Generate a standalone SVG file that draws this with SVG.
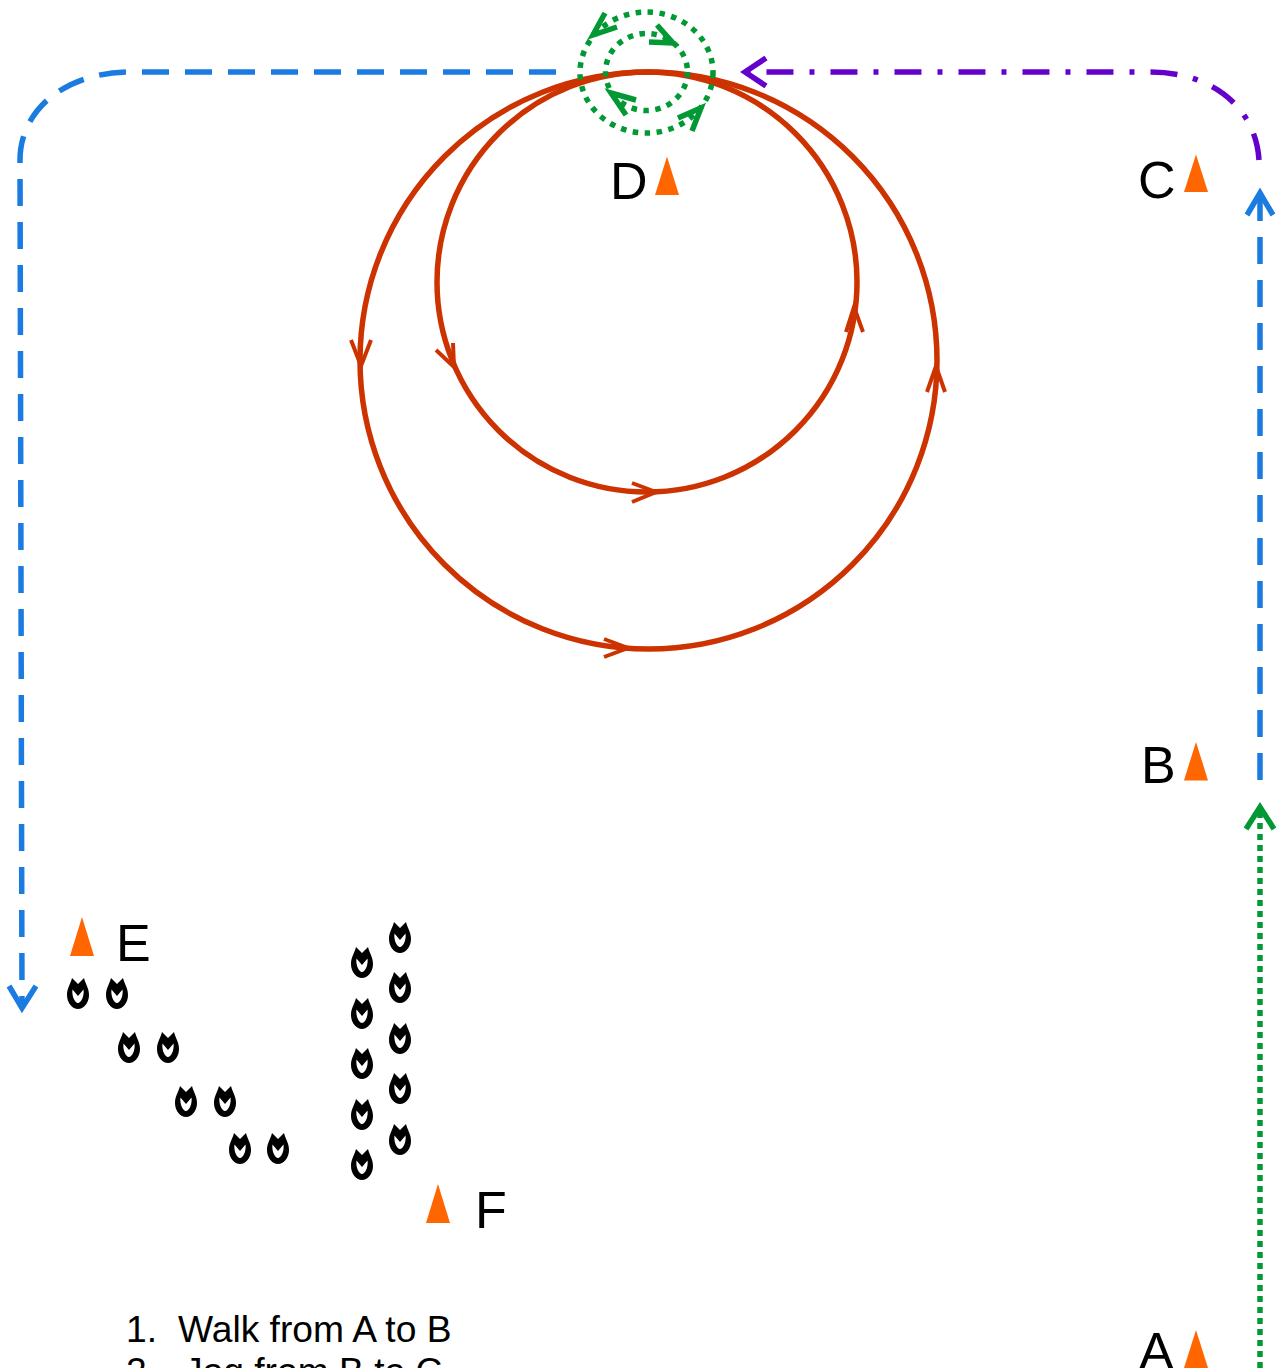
<svg xmlns="http://www.w3.org/2000/svg" width="1277" height="1368" viewBox="0 0 1277 1368">
<style>
.lab{font-family:"Liberation Sans",Arial,sans-serif;font-size:52px;fill:#000}
.list{font-family:"Liberation Sans",Arial,sans-serif;font-size:37.200px;fill:#000}
.tri{fill:#ff6600}
.c{fill:none}
.red{stroke:#cc3300;stroke-width:5.500}
.redh{stroke:#cc3300;stroke-width:4}
.grn{stroke:#009933;stroke-width:5.500}
.gdot{stroke-dasharray:5.500 6.500}
.blu{stroke:#1a7be0;stroke-width:5.500}
.pur{stroke:#6600cc;stroke-width:5.500}
.dash{stroke-dasharray:27 16}
.dd{stroke-dasharray:27 16 5 16}
</style>
<defs>
<g id="foot">
<path fill="#000" d="M-11,2 C-11,-5 -7.500,-9 -6,-15 L0,-9 L6,-15 C7.500,-9 11,-5 11,2 C11,10 5.500,16 0,16 C-5.500,16 -11,10 -11,2Z"/>
<path fill="#fff" d="M-5.500,-3.500 L0,3 L5.500,-3.500 C6.500,3 3,10 0,10 C-3,10 -6.500,3 -5.500,-3.500Z"/>
</g>
</defs>
<g id="connectors">
<circle class="c red" cx="648.500" cy="360.500" r="288.500"/>
<circle class="c red" cx="647" cy="282" r="210"/>
<polyline class="c redh" points="351,340 361,366 371,340"/>
<polyline class="c redh" points="436,350 454,367 453,343"/>
<polyline class="c redh" points="927,392 936,366 945,392"/>
<polyline class="c redh" points="846,332 854,307 863,332"/>
<polyline class="c redh" points="604,639 628,648 604,657"/>
<polyline class="c redh" points="632,483 656,492 632,502"/>
<ellipse class="c grn gdot" cx="646.500" cy="72.500" rx="66.500" ry="60.500"/>
<ellipse class="c grn gdot" cx="646.500" cy="72" rx="41" ry="38.500"/>
<polyline class="c grn" points="605,13 593,35 617,27"/>
<polyline class="c grn" points="657,25 673,43 649,42"/>
<polyline class="c grn" points="636,100 611,93 626,115"/>
<polyline class="c grn" points="678,118 701,108 692,131"/>
<path class="c grn" stroke-dasharray="6 5" d="M1260,1368 V812"/>
<polyline class="c grn" points="1246,829 1260,807 1274,829"/>
<path class="c blu dash" d="M1260,780 V194"/>
<polyline class="c blu" points="1247,215 1260,193 1273,215"/>
<path class="c pur dd" d="M1259,160 C1256,110 1215,72 1150,72 H750"/>
<polyline class="c pur" points="766,58 745,72 766,86"/>
<path class="c blu dash" d="M556,72 H130 C65,72 20,110 20,160 L22,1005"/>
<polyline class="c blu" points="9,986 22,1008 36,986"/>
</g>
<g id="node-a"><text class="lab" x="1139" y="1369">A</text><polygon class="tri" points="1196,1330 1208,1368 1184,1368"/></g>
<g id="node-b"><text class="lab" x="1141" y="783">B</text><polygon class="tri" points="1196,742 1208,780.500 1184,780.500"/></g>
<g id="node-c"><text class="lab" x="1138" y="198">C</text><polygon class="tri" points="1196,154.500 1208,192 1184,192"/></g>
<g id="node-d"><text class="lab" x="610" y="199">D</text><polygon class="tri" points="667,156.500 679,195 655,195"/></g>
<g id="node-e"><text class="lab" x="116" y="961">E</text><polygon class="tri" points="82,917 94,956 70,956"/></g>
<g id="node-f"><text class="lab" x="475" y="1228">F</text><polygon class="tri" points="438,1184 450,1223 426,1223"/></g>
<g id="footprints">
<use href="#foot" x="78" y="993"/><use href="#foot" x="117" y="993"/>
<use href="#foot" x="129" y="1047"/><use href="#foot" x="168" y="1047"/>
<use href="#foot" x="186" y="1101"/><use href="#foot" x="225" y="1101"/>
<use href="#foot" x="240" y="1148"/><use href="#foot" x="278" y="1148"/>
<use href="#foot" x="362" y="962"/><use href="#foot" x="362" y="1013"/><use href="#foot" x="362" y="1063"/><use href="#foot" x="362" y="1114"/><use href="#foot" x="362" y="1164"/>
<use href="#foot" x="400" y="937"/><use href="#foot" x="400" y="987"/><use href="#foot" x="400" y="1038"/><use href="#foot" x="400" y="1088"/><use href="#foot" x="400" y="1139"/>
</g>
<g id="list">
<text class="list" x="126" y="1342">1.</text><text class="list" x="178" y="1342">Walk from A to B</text>
<text class="list" x="126" y="1384">2.</text><text class="list" x="184" y="1384">Jog from B to C</text>
</g>
</svg>
